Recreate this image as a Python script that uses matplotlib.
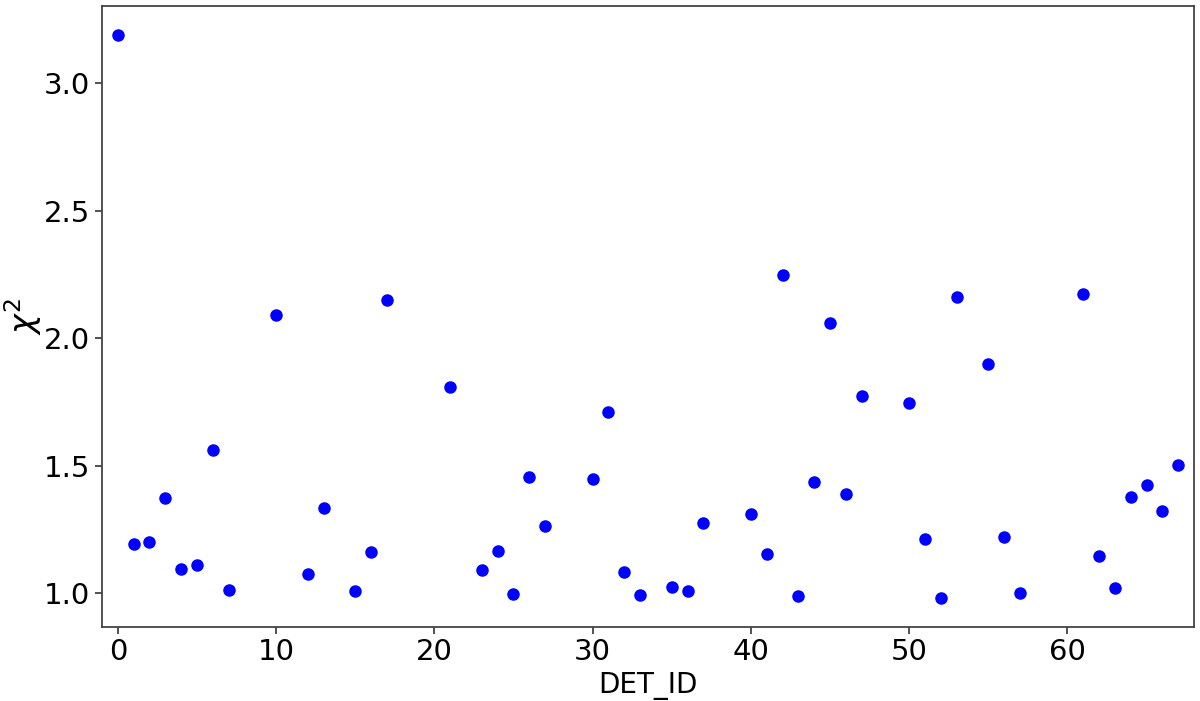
import numpy as np
import matplotlib
matplotlib.use("Agg")
import matplotlib.pyplot as plt

# detector id -> reduced chi^2
det_id = [0, 1, 2, 3, 4, 5, 6, 7, 10, 12, 13, 15, 16, 17,
          21, 23, 24, 25, 26, 27, 30, 31, 32, 33, 35, 36, 37,
          40, 41, 42, 43, 44, 45, 46, 47, 50, 51, 52, 53, 55, 56, 57,
          61, 62, 63, 64, 65, 66, 67]
chi2 = [3.192, 1.194, 1.200, 1.374, 1.094, 1.111, 1.563, 1.014, 2.091, 1.076, 1.334, 1.010, 1.161, 2.150,
        1.807, 1.090, 1.166, 0.997, 1.455, 1.264, 1.446, 1.709, 1.082, 0.993, 1.025, 1.010, 1.277,
        1.309, 1.152, 2.247, 0.988, 1.436, 2.059, 1.390, 1.773, 1.746, 1.214, 0.979, 2.163, 1.899, 1.221, 1.000,
        2.174, 1.144, 1.021, 1.379, 1.425, 1.323, 1.501]

fig, ax = plt.subplots(figsize=(12, 7.01), dpi=100)
fig.subplots_adjust(left=0.085, right=0.995, top=0.991, bottom=0.106)

ax.scatter(det_id, chi2, s=64, color="blue", zorder=3)
ax.set_xlim(-1, 68)
ax.set_xticks(np.arange(0, 70, 10))
ax.set_yticks([1.0, 1.5, 2.0, 2.5, 3.0])
ax.tick_params(labelsize=21, length=5, width=1.2, color="#333333")
ax.set_xlabel("DET_ID", fontsize=20, labelpad=4)
ax.set_ylabel(r"$\chi^2$", fontsize=24, labelpad=0)
for sp in ax.spines.values():
    sp.set_color("#444444")
    sp.set_linewidth(1.3)

fig.savefig("out.png", dpi=100)
